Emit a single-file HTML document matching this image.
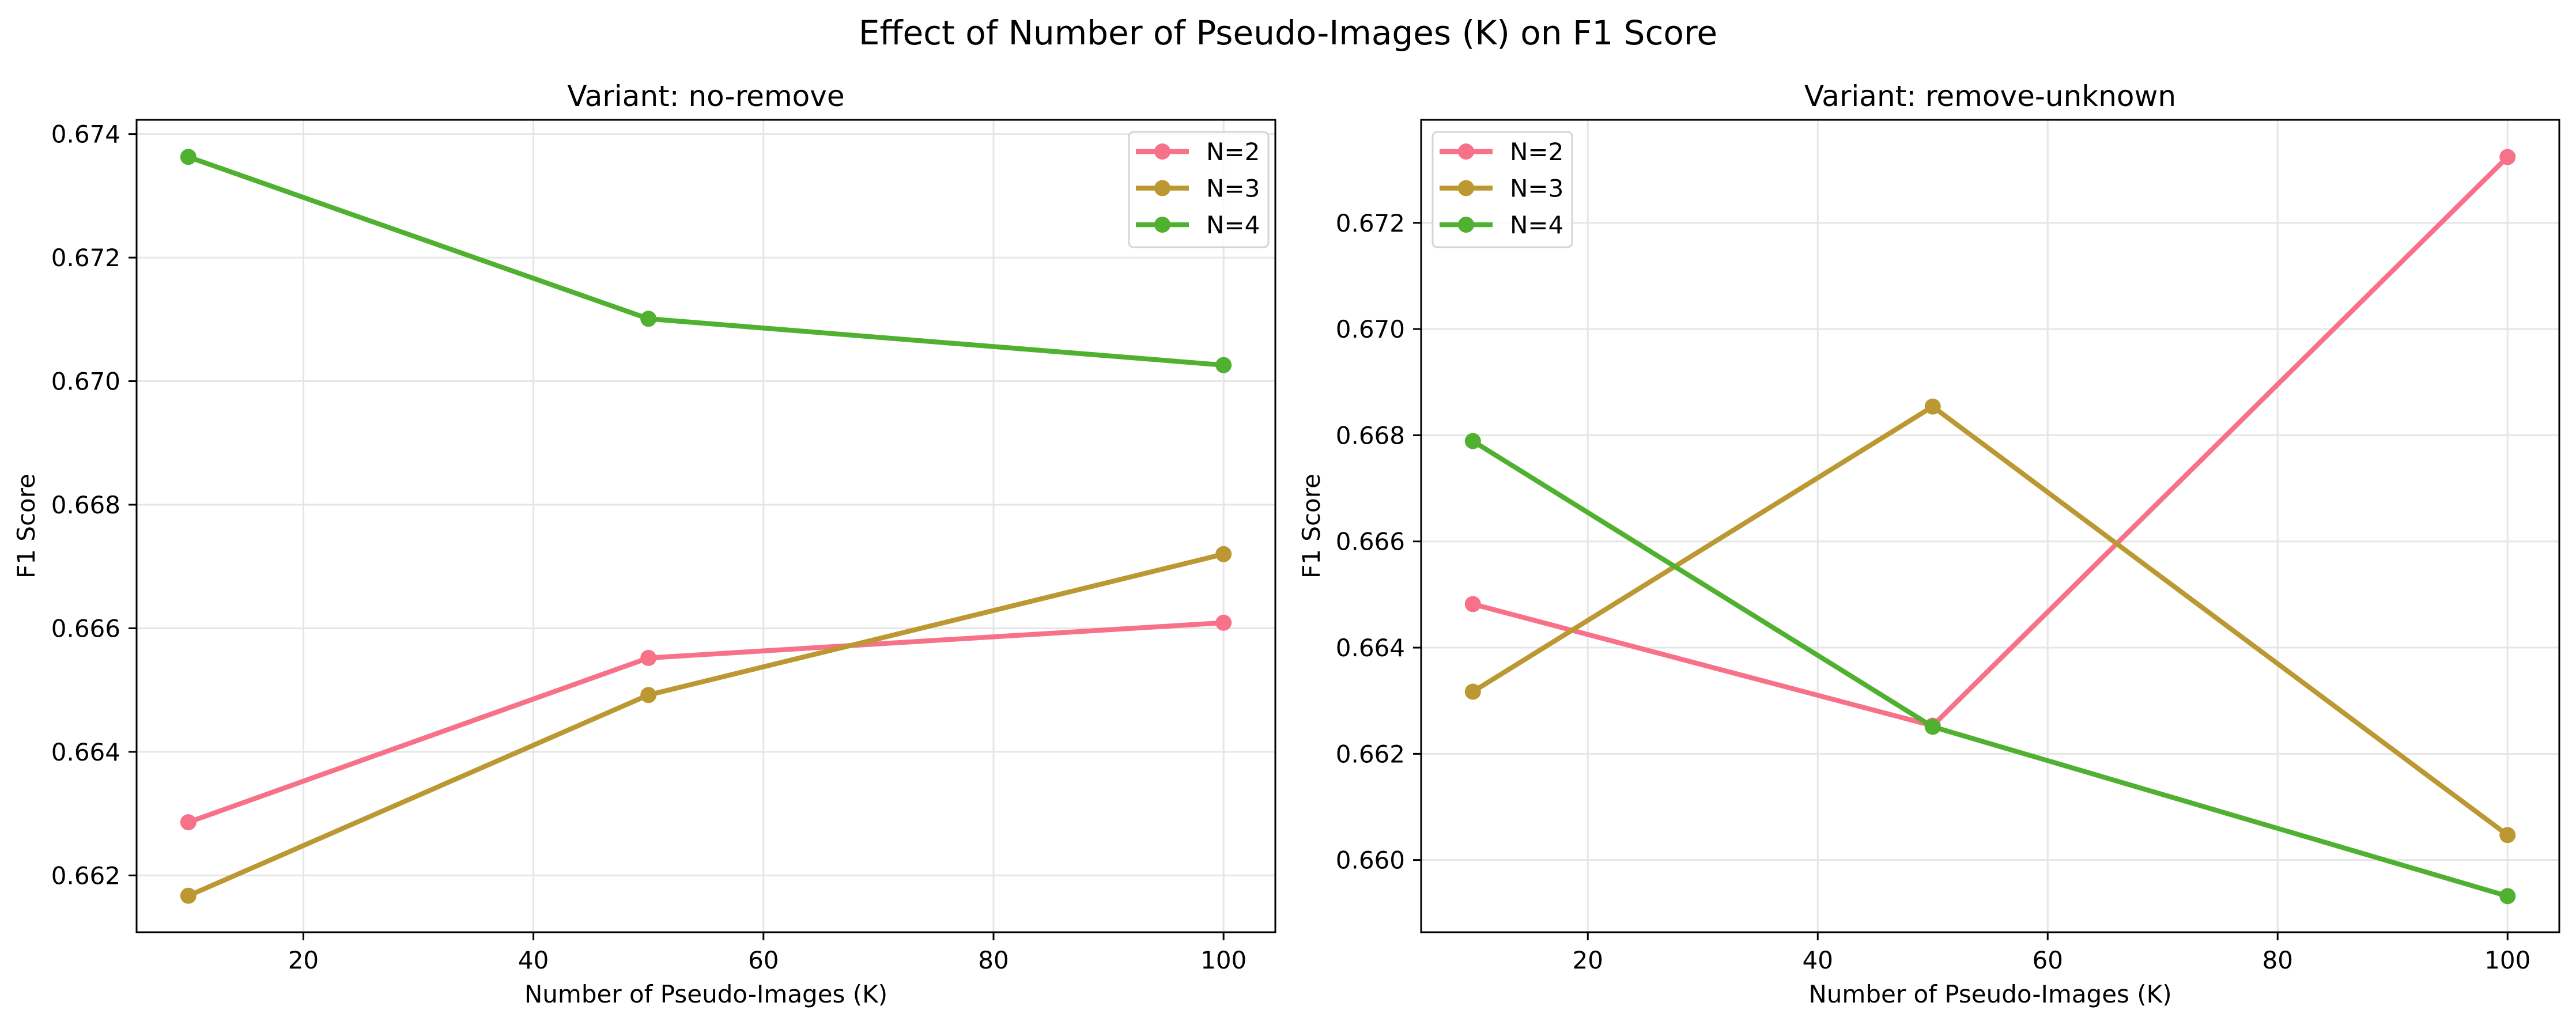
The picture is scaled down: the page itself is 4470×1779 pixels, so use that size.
<!DOCTYPE html>
<html><head><meta charset="utf-8"><style>
html,body{margin:0;padding:0;background:#fff;}
svg{display:block;font-family:"DejaVu Sans","Liberation Sans",sans-serif;}
</style></head><body>
<svg id="fig" width="4470" height="1779" viewBox="0 0 4470 1779" xmlns="http://www.w3.org/2000/svg">
<rect width="4470" height="1779" fill="#fff"/>
<text x="2235" y="77" font-size="58" text-anchor="middle">Effect of Number of Pseudo-Images (K) on F1 Score</text>
</svg>
<script>
const categories = [10, 50, 100];
const seriesNames = ["N=2", "N=3", "N=4"];
const noRemoveN2 = [0.66286, 0.66552, 0.66609];
const noRemoveN3 = [0.66167, 0.66492, 0.66720];
const noRemoveN4 = [0.67363, 0.67101, 0.67026];
const removeUnknownN2 = [0.66482, 0.66253, 0.67324];
const removeUnknownN3 = [0.66317, 0.66854, 0.66047];
const removeUnknownN4 = [0.66789, 0.66251, 0.65932];
const xTicks = [20, 40, 60, 80, 100];
const leftYTicks = [0.662, 0.664, 0.666, 0.668, 0.670, 0.672, 0.674];
const rightYTicks = [0.660, 0.662, 0.664, 0.666, 0.668, 0.670, 0.672];
const colors = ["#f77189", "#bb9832", "#50b131"];

const NS = "http://www.w3.org/2000/svg";
const svg = document.getElementById('fig');
function mk(tag, attrs, parent, txt) {
  const e = document.createElementNS(NS, tag);
  for (const k in attrs) e.setAttribute(k, attrs[k]);
  if (txt !== undefined) e.textContent = txt;
  (parent || svg).appendChild(e);
  return e;
}

function panel(cfg) {
  const g = mk('g', {});
  
  
  const L = cfg.left, R = cfg.right, T = 208, B = 1618;
  const xs = k => L + (k - 5.5) / (104.5 - 5.5) * (R - L);
  const ys = v => B - (v - cfg.ymin) / (cfg.ymax - cfg.ymin) * (B - T);
  xTicks.forEach(t => {
    const l = mk('line', {x1: xs(t), x2: xs(t), y1: T, y2: B, stroke: '#e6e6e6', 'stroke-width': 3}, g);
    
    
  });
  cfg.yTicks.forEach(t => {
    const l = mk('line', {x1: L, x2: R, y1: ys(t), y2: ys(t), stroke: '#e6e6e6', 'stroke-width': 3}, g);
    
    
  });
  cfg.series.forEach((vals, i) => {
    const pts = vals.map((v, j) => xs(categories[j]) + ',' + ys(v)).join(' ');
    const pl = mk('polyline', {points: pts, fill: 'none', stroke: colors[i], 'stroke-width': 8.5, 'stroke-linejoin': 'round'}, g);
    
    
    vals.forEach((v, j) => {
      const c = mk('circle', {cx: xs(categories[j]), cy: ys(v), r: 14, fill: colors[i]}, g);
      
      
    });
  });
  const fr = mk('rect', {x: L, y: T, width: R - L, height: B - T, fill: 'none', stroke: '#000', 'stroke-width': 3}, g);
  
  
  xTicks.forEach(t => {
    mk('line', {x1: xs(t), x2: xs(t), y1: B, y2: B + 14, stroke: '#000', 'stroke-width': 3}, g);
    const tx = mk('text', {x: xs(t), y: 1681, 'font-size': 42, 'text-anchor': 'middle'}, g, String(t));
    
    
  });
  cfg.yTicks.forEach(t => {
    mk('line', {x1: L - 14, x2: L, y1: ys(t), y2: ys(t), stroke: '#000', 'stroke-width': 3}, g);
    const tx = mk('text', {x: L - 28, y: ys(t) + 15, 'font-size': 42, 'text-anchor': 'end'}, g, t.toFixed(3));
    
    
  });
  const xl = mk('text', {x: (L + R) / 2, y: 1740, 'font-size': 42, 'text-anchor': 'middle'}, g, 'Number of Pseudo-Images (K)');
  
  
  const yx = cfg.ylabelX, yy = (T + B) / 2;
  const yl = mk('text', {x: yx, y: yy, 'font-size': 42, 'text-anchor': 'middle', transform: 'rotate(-90 ' + yx + ' ' + yy + ')'}, g, 'F1 Score');
  
  
  const st = mk('text', {x: (L + R) / 2, y: 184, 'font-size': 50, 'text-anchor': 'middle'}, g, cfg.title);
  
  
  const lg = mk('g', {}, g);
  
  
  const lx = cfg.legendX, ly = 229;
  mk('rect', {x: lx, y: ly, width: 242, height: 200, rx: 8, fill: 'rgba(255,255,255,0.8)', stroke: '#d5d5d5', 'stroke-width': 3}, lg);
  seriesNames.forEach((n, i) => {
    const y = ly + 34 + i * 63.5;
    const e = mk('g', {}, lg);
    
    
    mk('line', {x1: lx + 12, x2: lx + 104, y1: y, y2: y, stroke: colors[i], 'stroke-width': 8.5}, e);
    mk('circle', {cx: lx + 58, cy: y, r: 14, fill: colors[i]}, e);
    mk('text', {x: lx + 134, y: y + 15, 'font-size': 42}, e, n);
  });
}

panel({name: 'panel-no-remove', title: 'Variant: no-remove', left: 237, right: 2213,
  ymin: 0.66108, ymax: 0.67423, yTicks: leftYTicks, ylabelX: 60, legendX: 1959,
  series: [noRemoveN2, noRemoveN3, noRemoveN4]});
panel({name: 'panel-remove-unknown', title: 'Variant: remove-unknown', left: 2466, right: 4441,
  ymin: 0.65864, ymax: 0.67394, yTicks: rightYTicks, ylabelX: 2290, legendX: 2486,
  series: [removeUnknownN2, removeUnknownN3, removeUnknownN4]});
</script>
</body></html>
